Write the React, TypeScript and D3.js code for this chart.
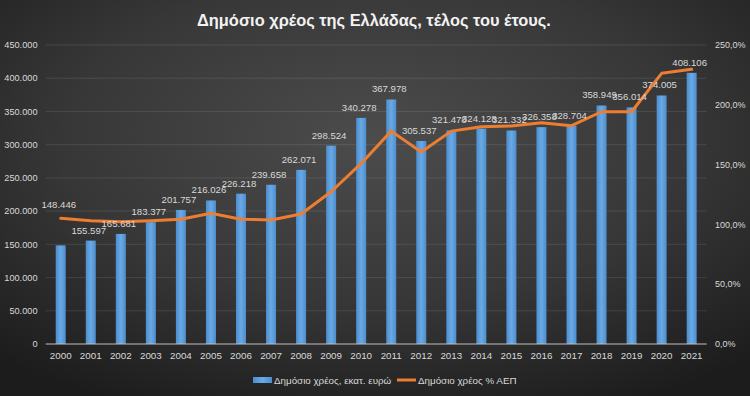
import React from "react";
import * as d3 from "d3";

const years = ["2000","2001","2002","2003","2004","2005","2006","2007","2008","2009","2010","2011","2012","2013","2014","2015","2016","2017","2018","2019","2020","2021"];
const debtMillions = [148446,155597,165681,183377,201757,216026,226218,239658,262071,298524,340278,367978,305537,321478,324128,321332,326358,328704,358949,356014,374005,408106];
const debtPctGdp = [105.1,103.1,102.3,103.1,104.3,109.3,104.3,103.7,108.7,127.3,151,178,160.5,178,181.7,182.3,185,182.5,194.2,194.2,226.3,229.7];
const leftTicks = [0,50000,100000,150000,200000,250000,300000,350000,400000,450000];
const rightTicks = [0,50,100,150,200,250];
const title = "Δημόσιο χρέος της Ελλάδας, τέλος του έτους.";
const seriesNames = ["Δημόσιο χρέος, εκατ. ευρώ", "Δημόσιο χρέος % ΑΕΠ"];

const W = 750, H = 396;
const FONT = "'Liberation Sans', Arial, sans-serif";
const TXT = "#d9d9d9";

const locale = d3.formatLocale({ decimal: ",", thousands: ".", grouping: [3], currency: ["", "€"] });
const fmtThousands = locale.format(",");
const fmtPct = (v: number) => v.toFixed(1).replace(".", ",") + "%";

export default function App() {
  const x = d3.scaleBand<string>().domain(years).range([45.7, 706.7]).paddingInner(2 / 3).paddingOuter(1 / 3);
  const yL = d3.scaleLinear().domain([0, 450000]).range([344, 45]);
  const yR = d3.scaleLinear().domain([0, 250]).range([344, 45]);
  const cx = (y: string) => (x(y) as number) + x.bandwidth() / 2;

  const line = d3.line<number>()
    .x((_, i) => cx(years[i]))
    .y((d) => yR(d))
    .curve(d3.curveLinear);

  return (
    <svg width={W} height={H} style={{ position: "absolute", left: 0, top: 0 }} fontFamily={FONT}>
      <defs>
        <radialGradient id="bg" cx="50%" cy="35%" r="75%">
          <stop offset="0%" stopColor="#4c4c4c" />
          <stop offset="55%" stopColor="#373737" />
          <stop offset="100%" stopColor="#1c1c1c" />
        </radialGradient>
        <linearGradient id="bar" x1="0" x2="1" y1="0" y2="0">
          <stop offset="0%" stopColor="#4b8dcf" />
          <stop offset="50%" stopColor="#6aa9e3" />
          <stop offset="100%" stopColor="#4b8dcf" />
        </linearGradient>
      </defs>
      <rect x={0} y={0} width={W} height={H} fill="url(#bg)" />

      <text x={374} y={26} textAnchor="middle" fill="#f2f2f2" fontSize={16.4} fontWeight="bold">{title}</text>

      {leftTicks.slice(1).map((t) => (
        <line key={"g" + t} x1={45.7} x2={706.7} y1={yL(t)} y2={yL(t)} stroke="rgba(255,255,255,0.1)" strokeWidth={1} />
      ))}

      {leftTicks.map((t) => (
        <text key={"l" + t} x={37.5} y={yL(t)} dy="0.35em" textAnchor="end" fill={TXT} fontSize={9.2}>{fmtThousands(t)}</text>
      ))}
      {rightTicks.map((t) => (
        <text key={"r" + t} x={715} y={yR(t)} dy="0.35em" textAnchor="start" fill={TXT} fontSize={9}>{fmtPct(t)}</text>
      ))}

      {years.map((yr, i) => (
        <rect key={"b" + yr} x={x(yr)} y={yL(debtMillions[i])} width={x.bandwidth()} height={yL(0) - yL(debtMillions[i])} fill="url(#bar)" />
      ))}

      <line x1={45.7} x2={706.7} y1={yL(0)} y2={yL(0)} stroke="#bfbfbf" strokeWidth={1} />

      <path d={line(debtPctGdp) || ""} fill="none" stroke="#ed7d31" strokeWidth={3} strokeLinejoin="round" strokeLinecap="round" />

      {years.map((yr, i) => {
        const lifted = i === 0;
        const yPos = lifted ? yR(debtPctGdp[i]) - 10 : yL(debtMillions[i]) - 7;
        return (
          <text key={"v" + yr} x={cx(yr) - 2} y={yPos} textAnchor="middle" fill={TXT} fontSize={9.6}>{fmtThousands(debtMillions[i])}</text>
        );
      })}

      {years.map((yr) => (
        <text key={"x" + yr} x={cx(yr)} y={359} textAnchor="middle" fill={TXT} fontSize={9.8}>{yr}</text>
      ))}

      <g>
        <rect x={253} y={377} width={19} height={6} fill="url(#bar)" />
        <text x={274} y={384} fill={TXT} fontSize={9.8}>{seriesNames[0]}</text>
        <line x1={397} x2={416} y1={380} y2={380} stroke="#ed7d31" strokeWidth={3} />
        <text x={418} y={384} fill={TXT} fontSize={9.8}>{seriesNames[1]}</text>
      </g>
    </svg>
  );
}
